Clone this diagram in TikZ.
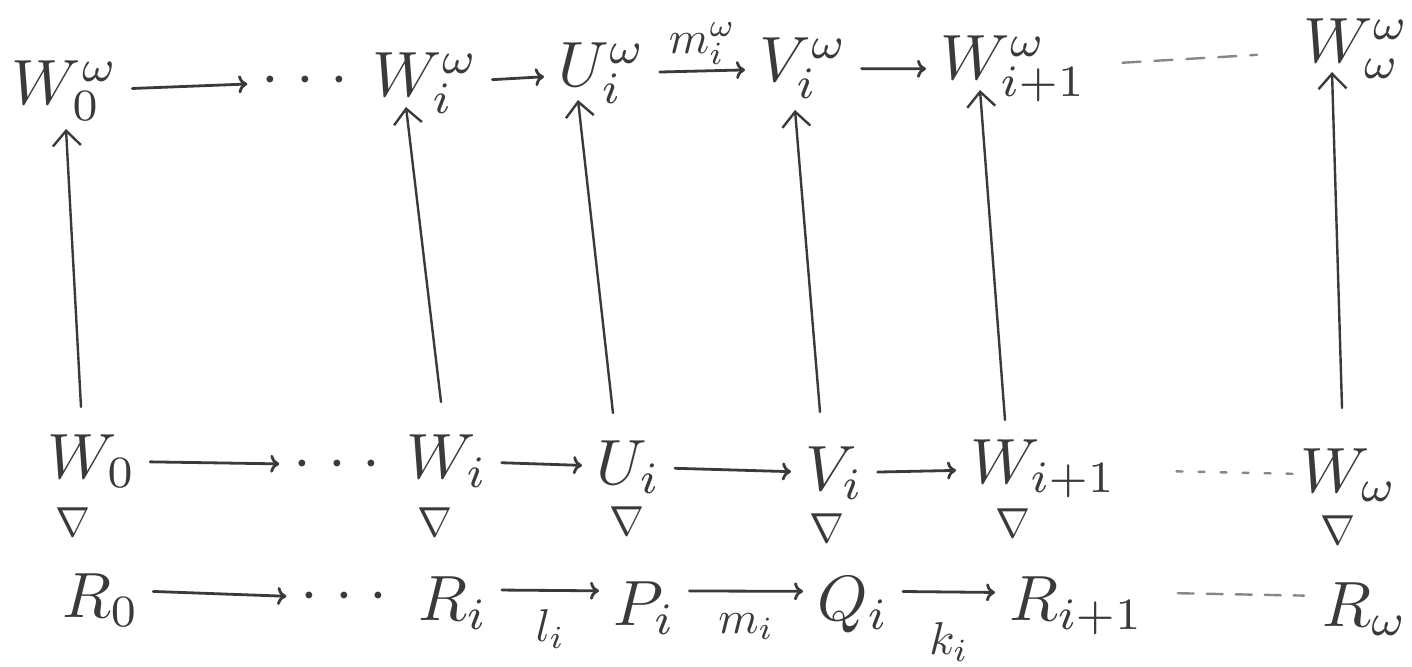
\documentclass[tikz,border=0pt]{standalone}
\usetikzlibrary{arrows.meta}
\definecolor{ink}{RGB}{58,58,58}
\definecolor{faint}{RGB}{135,135,135}
\begin{document}
\begin{tikzpicture}[x=1pt,y=-1pt,
  obj/.style={inner sep=0pt, outer sep=0pt, anchor=base west, text=ink, scale=6.4},
  dots/.style={inner sep=0pt, outer sep=0pt, anchor=base, text=ink, scale=6.4},
  normal/.style={inner sep=0pt, outer sep=0pt, anchor=center, text=ink, scale=4.2},
  lbl/.style={inner sep=0pt, outer sep=0pt, text=ink, scale=4.6},
  harr/.style={draw=ink, line width=2.8pt, line cap=round,
               -{Computer Modern Rightarrow[length=9pt,width=18pt]},
               shorten <=14pt, shorten >=14pt},
  varr/.style={draw=ink, line width=2.4pt, line cap=round,
               -{Straight Barb[length=15pt,width=28pt]}},
  dashline/.style={draw=faint, line width=2.4pt, line cap=round},
]
\useasboundingbox (0,0) rectangle (1412,666);
\newcommand{\threedots}{$\cdot$\hspace{2.66pt}$\cdot$\hspace{2.66pt}$\cdot$}

% --- top row: the omega-powers
\node[obj] (t0) at (12,105)   {$W_0^{\omega}$};
\node[dots] (td) at (305,96)  {\threedots};
\node[obj] (t1) at (372,97)   {$W_i^{\omega}$};
\node[obj] (t2) at (558,87)   {$U_i^{\omega}$};
\node[obj] (t3) at (759,82)   {$V_i^{\omega}$};
\node[obj] (t4) at (940,80)   {$W_{i+1}^{\omega}$};
\node[obj] (t5) at (1303,63)  {$W_{\omega}^{\omega}$};

% --- middle row
\node[obj] (m0) at (47,478)   {$W_0$};
\node[dots] (md) at (337,479) {\threedots};
\node[obj] (m1) at (406,478)  {$W_i$};
\node[obj] (m2) at (596,484)  {$U_i$};
\node[obj] (m3) at (805,490)  {$V_i$};
\node[obj] (m4) at (970,483)  {$W_{i+1}$};
\node[obj] (m5) at (1300,492) {$W_{\omega}$};

% --- normality signs between the middle and bottom rows
\node[normal] (n0) at (73,522)   {$\nabla$};
\node[normal] (n1) at (435,522)  {$\nabla$};
\node[normal] (n2) at (627,521)  {$\nabla$};
\node[normal] (n3) at (827,528)  {$\nabla$};
\node[normal] (n4) at (1013,523) {$\nabla$};
\node[normal] (n5) at (1338,530) {$\nabla$};

% --- bottom row
\node[obj] (b0) at (62,617)   {$R_0$};
\node[dots] (bd) at (344,611) {\threedots};
\node[obj] (b1) at (418,620)  {$R_i$};
\node[obj] (b2) at (613,625)  {$P_i$};
\node[obj] (b3) at (817,620)  {$Q_i$};
\node[obj] (b4) at (1009,620) {$R_{i+1}$};
\node[obj] (b5) at (1322,626) {$R_{\omega}$};

% --- horizontal maps, top row
\draw[harr] (t0) -- (td);
\draw[harr] (t1) -- (t2);
\draw[harr] (t2) -- node[lbl, midway, above=1.3pt] {$m_i^{\omega}$} (t3);
\draw[harr] (t3) -- (t4);
\draw[dashline, dash pattern=on 18pt off 14pt, shorten <=36pt, shorten >=46pt] (t4) -- (t5);

% --- horizontal maps, middle row
\draw[harr] (m0) -- (md);
\draw[harr] (m1) -- (m2);
\draw[harr] (m2) -- (m3);
\draw[harr] (m3) -- (m4);
\draw[dashline, dash pattern=on 6pt off 16pt, shorten <=60pt, shorten >=4pt] (m4) -- (m5);

% --- horizontal maps, bottom row
\draw[harr] ([yshift=9pt]b0.east) -- (bd.west);
\draw[harr] ([yshift=13pt]b1.east) -- node[lbl, midway, below=4.2pt] {$l_i$} ([yshift=17pt]b2.west);
\draw[harr] ([yshift=17pt]b2.east) -- node[lbl, midway, below=4.8pt] {$m_i$} ([yshift=13pt]b3.west);
\draw[harr] ([yshift=13pt]b3.east) -- node[lbl, midway, below=6.6pt] {$k_i$} ([yshift=13pt]b4.west);
\draw[dashline, dash pattern=on 16pt off 13pt, shorten <=34pt, shorten >=18pt] ([yshift=13pt]b4.east) -- ([yshift=13pt]b5.west);

% --- vertical maps from the middle row up to the top row
\draw[varr] ([xshift=34pt,yshift=71pt]m0.base west) -- ([xshift=54pt,yshift=-24pt]t0.base west);
\draw[varr] ([xshift=35pt,yshift=76pt]m1.base west) -- ([xshift=34pt,yshift=-10pt]t1.base west);
\draw[varr] ([xshift=17pt,yshift=71pt]m2.base west) -- ([xshift=20pt,yshift=-13pt]t2.base west);
\draw[varr] ([xshift=15pt,yshift=78pt]m3.base west) -- ([xshift=36pt,yshift=-28pt]t3.base west);
\draw[varr] ([xshift=35pt,yshift=63pt]m4.base west) -- ([xshift=40pt,yshift=-10pt]t4.base west);
\draw[varr] ([xshift=42pt,yshift=84pt]m5.base west) -- ([xshift=29pt,yshift=-9pt]t5.base west);
\end{tikzpicture}
\end{document}
